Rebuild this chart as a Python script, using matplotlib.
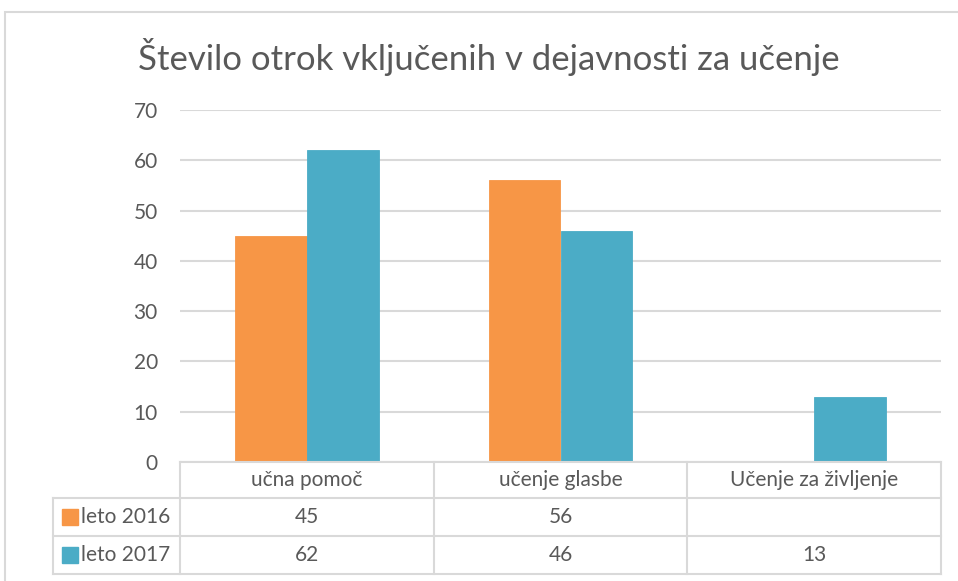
import matplotlib
matplotlib.use("Agg")
import matplotlib.pyplot as plt
from matplotlib.patches import Rectangle
from matplotlib.lines import Line2D
from matplotlib.transforms import blended_transform_factory
import numpy as np

plt.rcParams['font.family'] = ['Lato', 'DejaVu Sans']

title = "Število otrok vključenih v dejavnosti za učenje"
categories = ["učna pomoč", "učenje glasbe", "Učenje za življenje"]
series_names = ["leto 2016", "leto 2017"]
values_2016 = [45, 56, None]
values_2017 = [62, 46, 13]
colors = ["#F79646", "#4BACC6"]
yticks = [0, 10, 20, 30, 40, 50, 60, 70]

W, H = 958, 581
fig = plt.figure(figsize=(W / 100, H / 100), dpi=100)
TXT = "#595959"
GRID = "#D9D9D9"

def fx(px):
    return px / W

def fy(py):
    return 1 - py / H

ax_left, ax_right, ax_top, ax_bottom = 180, 941, 110, 462
ax = fig.add_axes([fx(ax_left), fy(ax_bottom), fx(ax_right - ax_left), fy(ax_top) - fy(ax_bottom)])

x = np.arange(len(categories))
bw = 0.283
series = [values_2016, values_2017]
for i, (vals, c) in enumerate(zip(series, colors)):
    xs = [xi for xi, v in zip(x, vals) if v is not None]
    vs = [v for v in vals if v is not None]
    ax.bar(np.array(xs) + (i - 0.5) * bw, vs, width=bw, color=c, edgecolor=c, linewidth=0.6, zorder=3)

ax.set_xlim(-0.5, len(categories) - 0.5)
ax.set_ylim(0, 70)
ax.set_yticks(yticks)
ax.set_yticklabels([str(t) for t in yticks], fontsize=15, color=TXT)
ax.tick_params(axis='y', length=0, pad=16)
ax.set_xticks([])
ax.grid(axis='y', color=GRID, linewidth=1.5, zorder=0)
for s in ax.spines.values():
    s.set_visible(False)

# Title
fig.text(fx(489), fy(57), title, ha='center', va='center', fontsize=25, color=TXT)

# Outer frame
fig.add_artist(Rectangle((fx(5), -0.02), 1.05, fy(12) + 0.02, transform=fig.transFigure,
                         fill=False, edgecolor=GRID, linewidth=1.5))

# Data table
tr = blended_transform_factory(ax.transData, fig.transFigure)
row_y = [462, 498, 536, 574]
left_col = 53
lw = 1.5
fig.add_artist(Line2D([fx(ax_left), fx(ax_right)], [fy(row_y[0])] * 2, color=GRID, lw=lw, transform=fig.transFigure))
for ry in row_y[1:]:
    fig.add_artist(Line2D([fx(left_col), fx(ax_right)], [fy(ry)] * 2, color=GRID, lw=lw, transform=fig.transFigure))
bounds = list(np.arange(len(categories) + 1) - 0.5)
for b in bounds:
    fig.add_artist(Line2D([b, b], [fy(row_y[0]), fy(row_y[-1])], color=GRID, lw=lw, transform=tr))
fig.add_artist(Line2D([fx(left_col)] * 2, [fy(row_y[1]), fy(row_y[-1])], color=GRID, lw=lw, transform=fig.transFigure))

for xi, cat in zip(x, categories):
    fig.text(xi, fy((row_y[0] + row_y[1]) / 2), cat, transform=tr, ha='center', va='center', fontsize=15, color=TXT)

for r, (name, vals, c) in enumerate(zip(series_names, series, colors)):
    yc = (row_y[r + 1] + row_y[r + 2]) / 2
    fig.add_artist(Rectangle((fx(62), fy(yc + 8)), fx(16), fy(yc - 8) - fy(yc + 8),
                             transform=fig.transFigure, color=c))
    fig.text(fx(81), fy(yc), name, ha='left', va='center', fontsize=15, color=TXT)
    for xi, v in zip(x, vals):
        if v is not None:
            fig.text(xi, fy(yc), str(v), transform=tr, ha='center', va='center', fontsize=15, color=TXT)

fig.savefig("out.png", dpi=100)
